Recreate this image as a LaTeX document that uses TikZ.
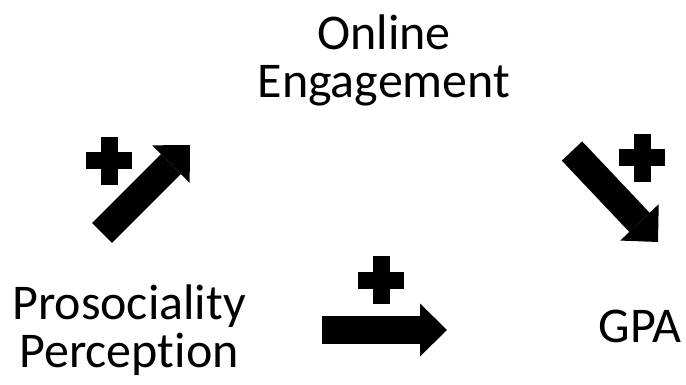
\documentclass[tikz,border=0pt]{standalone}
\usepackage{fontspec}
\setmainfont{Carlito}[Ligatures=NoCommon]
\usetikzlibrary{
    arrows.meta,
    positioning
}
\tikzset{
    % Labels
    label text/.style={font=\fontsize{50}{48}\selectfont, align=center, inner sep=0pt},
    %
    % Arrows
    fat tip/.tip={Triangle[length=27pt,width=53pt,line width=0pt]},
    fat arrow/.style={line width=28pt,-{fat tip}},
    %
    % Plus signs
    plus sign/.pic={
        \fill (-23,-8.5) rectangle (23,8.5);
        \fill (-8.5,-24) rectangle (8.5,24);
    }
}

\begin{document}
\begin{tikzpicture}[x=1pt,y=-1pt]
    \useasboundingbox (0,0) rectangle (686,385);
    \node[label text, anchor=base] (online) at (384,98) {Online\\Engagement};
    \node[label text, anchor=base] (proso) at (129,367) {Prosociality\\Perception};
    \node[label text, anchor=base] (gpa) at (640,342) {GPA};
    % path a: perception -> engagement
    \coordinate (a from) at (102,233);
    \coordinate (a to) at (190,145);
    \draw[fat arrow] (a from) -- (a to);
    \pic at (109,161) {plus sign};
    % path c: perception -> gpa
    \coordinate (c from) at (322,330);
    \coordinate (c to) at (447,330);
    \draw[fat arrow] (c from) -- (c to);
    \pic at (381,280) {plus sign};
    % path b: engagement -> gpa
    \coordinate (b from) at (572,151);
    \coordinate (b to) at (658,242);
    \draw[fat arrow] (b from) -- (b to);
    \pic at (642,158) {plus sign};
\end{tikzpicture}
\end{document}
